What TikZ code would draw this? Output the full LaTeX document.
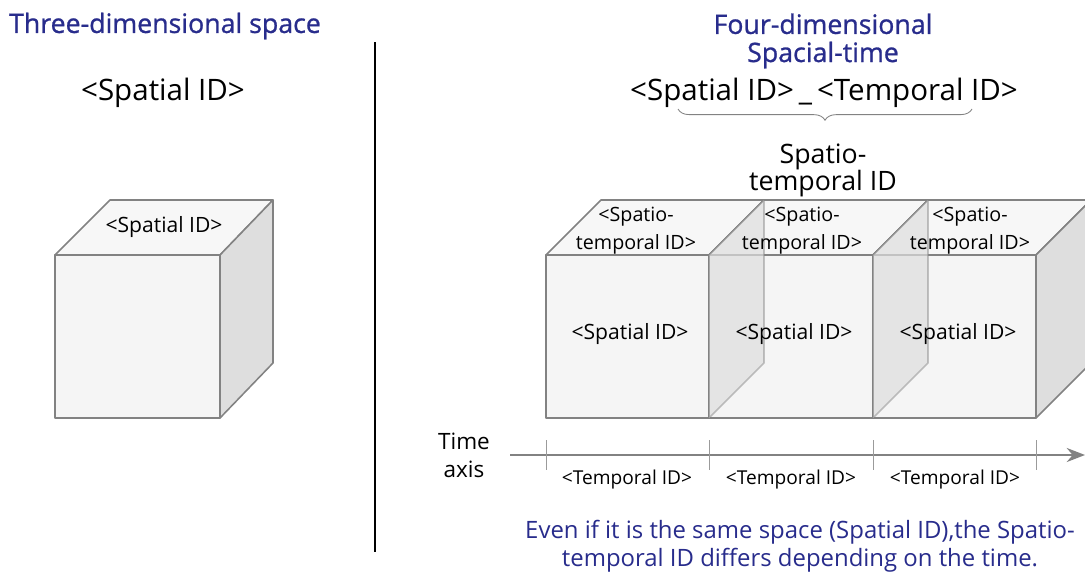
\documentclass[tikz,border=0pt]{standalone}
\usepackage{fontspec}
\setmainfont{Open Sans}
\newfontfamily\semifont[FakeBold=0.9]{Open Sans}
\usetikzlibrary{arrows.meta,positioning,decorations.pathreplacing}
\definecolor{idblue}{RGB}{40,44,140}
\definecolor{edgegray}{RGB}{130,130,130}
\definecolor{facelight}{RGB}{245,245,245}
\definecolor{toplight}{RGB}{247,247,247}
\definecolor{sidegray}{RGB}{222,222,222}
\tikzset{
  frontf/.style={draw=edgegray, fill=facelight, line width=1.1pt, line join=round},
  topf/.style={draw=edgegray, fill=toplight, line width=1.1pt, line join=round},
  sidef/.style={draw=edgegray, fill=sidegray, line width=1.1pt, line join=round},
  sidet/.style={draw=edgegray, fill=sidegray, fill opacity=0.7, draw opacity=0.45,
                line width=1.1pt, line join=round},
  ttl/.style={font=\semifont\fontsize{19}{20}\selectfont, text=idblue, align=center},
  bigid/.style={font=\fontsize{21}{20}\selectfont},
  cid/.style={font=\fontsize{14}{20}\selectfont, align=center},
  fid/.style={font=\fontsize{15}{20}\selectfont},
  tid/.style={font=\fontsize{13.6}{20}\selectfont},
  note/.style={font=\fontsize{17}{20}\selectfont, text=idblue, align=center},
  axarr/.style={-{Stealth[length=13pt, width=10pt]}, edgegray, line width=1.5pt},
  tck/.style={edgegray!80, line width=0.5pt},
  brc/.style={decorate, decoration={brace, mirror, amplitude=8pt}, edgegray, line width=0.6pt},
}
\begin{document}
\begin{tikzpicture}[x=0.025cm, y=-0.025cm]
  \clip (0,0) rectangle (1085,573);
  \fill[white] (0,0) rectangle (1085,573);
  \useasboundingbox (0,0) rectangle (1085,573);

  % left half: three-dimensional space
  \node[ttl] (t3d) at (165,26) {Three-dimensional space};
  \node[bigid] (sid3d) at (163,93) {<Spatial ID>};
  \draw[frontf] (55,255) rectangle (220,418);
  \draw[topf] (55,255) -- (110,200) -- (273,200) -- (220,255) -- cycle;
  \draw[sidef] (220,255) -- (273,200) -- (273,363) -- (220,418) -- cycle;
  \node[fid] (sidtop) at (164,227) {<Spatial ID>};

  % divider
  \coordinate (dv0) at (375,42);
  \coordinate (dv1) at (375,552);
  \draw[line width=1.4pt] (dv0) -- (dv1);

  % right half: four-dimensional spacial-time
  \node[ttl] (t4d) at (823,41) {Four-dimensional\\Spacial-time};
  \node[bigid] (stid) at (824,93) {<Spatial ID>\,\_\,<Temporal ID>};
  \coordinate (bl) at (678,109);
  \coordinate (br) at (972,109);
  \draw[brc] (bl) -- (br);
  \node[bigid, align=center, font=\fontsize{19}{19.2}\selectfont] (stlab) at (823,170) {Spatio-\\temporal ID};

  % cubes along the time axis
  \draw[frontf] (546,255) rectangle (709,418);
  \draw[topf] (546,255) -- (601,200) -- (764,200) -- (709,255) -- cycle;
  \draw[frontf] (709,255) rectangle (873,418);
  \draw[topf] (709,255) -- (764,200) -- (928,200) -- (873,255) -- cycle;
  \draw[frontf] (873,255) rectangle (1036,418);
  \draw[topf] (873,255) -- (928,200) -- (1091,200) -- (1036,255) -- cycle;
  \draw[sidet] (709,255) -- (764,200) -- (764,363) -- (709,418) -- cycle;
  \draw[sidet] (873,255) -- (928,200) -- (928,363) -- (873,418) -- cycle;
  \draw[sidef] (1036,255) -- (1091,200) -- (1091,363) -- (1036,418) -- cycle;

  \node[cid] (ctop1) at (636,231) {<Spatio-\\temporal ID>};
  \node[cid] (ctop2) at (802,231) {<Spatio-\\temporal ID>};
  \node[cid] (ctop3) at (970,231) {<Spatio-\\temporal ID>};
  \node[fid] (cfr1) at (630,334) {<Spatial ID>};
  \node[fid] (cfr2) at (794,334) {<Spatial ID>};
  \node[fid] (cfr3) at (958,334) {<Spatial ID>};

  % time axis
  \node[bigid, align=center, font=\fontsize{16}{20}\selectfont] (tax) at (464,455) {Time\\axis};
  \coordinate (ax0) at (510,455);
  \coordinate (ax1) at (1085,455);
  \draw[axarr] (ax0) -- (ax1);
  \draw[tck] (546,440) -- (546,470);
  \draw[tck] (709,440) -- (709,470);
  \draw[tck] (873,440) -- (873,470);
  \draw[tck] (1036,440) -- (1036,470);
  \node[tid] (tid1) at (627,480) {<Temporal ID>};
  \node[tid] (tid2) at (791,480) {<Temporal ID>};
  \node[tid] (tid3) at (955,480) {<Temporal ID>};

  \node[note] (nt) at (800,546) {Even if it is the same space (Spatial ID),the Spatio-\\temporal ID differs depending on the time.};
\end{tikzpicture}
\end{document}
